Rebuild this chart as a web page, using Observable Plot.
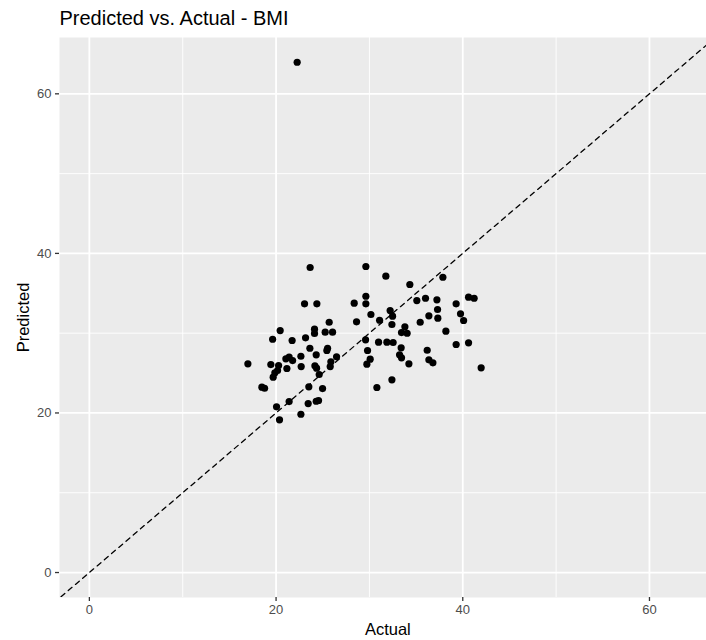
<!DOCTYPE html>
<html>
<head>
<meta charset="utf-8">
<script src="https://cdn.jsdelivr.net/npm/d3@7"></script>
<script src="https://cdn.jsdelivr.net/npm/@observablehq/plot@0.6"></script>
<style>
  html, body { margin: 0; padding: 0; background: #ffffff; }
  #chart { width: 706px; height: 640px; }
</style>
</head>
<body>
<div id="chart"></div>
<script>
// Actual vs predicted BMI values
const actual = [
  22.26,
  23.65, 23.05, 24.37, 28.37, 25.69, 28.62, 20.44, 24.12, 24.12, 25.26,
  26.05, 19.63, 21.72, 23.16, 23.62, 25.52, 25.44, 24.30, 26.48, 21.05,
  21.40, 21.77, 22.66, 25.87, 16.98, 19.44, 20.27, 21.16, 22.69, 24.16,
  24.34, 25.80, 20.16, 19.87, 19.69, 24.62, 18.48, 18.77, 23.51, 24.98,
  21.40, 20.05, 23.44, 24.30, 24.55, 22.66, 20.37,
  29.62, 31.76, 34.33, 37.87, 29.62, 29.62, 35.08, 36.01, 37.23, 39.29,
  40.62, 41.22, 30.16, 32.22, 32.48, 31.09, 32.41, 35.44, 36.37, 37.30,
  37.33, 39.76, 40.09, 33.80, 33.44, 34.04, 38.19, 29.59, 30.98, 31.87,
  32.54, 39.29, 40.62, 29.80, 33.40, 36.19, 30.08, 29.73, 33.23, 33.44,
  34.23, 36.37, 36.80, 41.97, 32.41, 30.80
];
const predicted = [
  63.96,
  38.23, 33.68, 33.68, 33.76, 31.37, 31.42, 30.33, 30.50, 29.96, 30.12,
  30.12, 29.24, 29.08, 29.42, 28.11, 28.11, 27.83, 27.29, 27.04, 26.79,
  26.99, 26.57, 27.11, 26.41, 26.16, 26.07, 25.95, 25.57, 25.82, 25.91,
  25.61, 25.82, 25.32, 25.03, 24.48, 24.82, 23.23, 23.10, 23.28, 23.06,
  21.43, 20.77, 21.18, 21.47, 21.56, 19.84, 19.14,
  38.36, 37.14, 36.10, 37.01, 34.63, 33.68, 34.09, 34.38, 34.18, 33.68,
  34.51, 34.38, 32.34, 32.84, 32.13, 31.62, 31.09, 31.37, 32.18, 32.97,
  31.88, 32.43, 31.59, 30.80, 30.08, 29.99, 30.25, 29.17, 28.87, 28.87,
  28.83, 28.58, 28.79, 27.83, 28.16, 27.86, 26.74, 26.11, 27.29, 26.91,
  26.16, 26.66, 26.28, 25.66, 24.15, 23.19
];
const majorTicks = [0, 20, 40, 60];
const minorTicks = [10, 30, 50];
const identityLine = [-10, 80];
const titleText = "Predicted vs. Actual - BMI";
const xLabel = "Actual";
const yLabel = "Predicted";

const points = actual.map((a, i) => ({actual: a, predicted: predicted[i]}));

const font = "'Liberation Sans', Arial, Helvetica, sans-serif";

const chart = Plot.plot({
  width: 706,
  height: 640,
  marginTop: 37,
  marginBottom: 43,
  marginLeft: 59,
  marginRight: 0,
  style: { fontFamily: font, background: "#ffffff", overflow: "visible" },
  x: { domain: [-3.2, 66.11] },
  y: { domain: [-3.13, 67.06] },
  marks: [
    Plot.frame({ fill: "#EBEBEB", stroke: null }),
    Plot.gridX(minorTicks, { stroke: "#ffffff", strokeOpacity: 1, strokeWidth: 0.9 }),
    Plot.gridY(minorTicks, { stroke: "#ffffff", strokeOpacity: 1, strokeWidth: 0.9 }),
    Plot.gridX(majorTicks, { stroke: "#ffffff", strokeOpacity: 1, strokeWidth: 1.8 }),
    Plot.gridY(majorTicks, { stroke: "#ffffff", strokeOpacity: 1, strokeWidth: 1.8 }),
    Plot.axisX(majorTicks, {
      tickSize: 4, tickPadding: 3, fontSize: 13, fill: "#4D4D4D",
      stroke: "#333333", strokeWidth: 1.3, label: null
    }),
    Plot.axisY(majorTicks, {
      tickSize: 4, tickPadding: 4, fontSize: 13, fill: "#4D4D4D",
      stroke: "#333333", strokeWidth: 1.3, label: null
    }),
    Plot.line(identityLine, {
      x: d => d, y: d => d, stroke: "#000000", strokeWidth: 1.3,
      strokeDasharray: "5,4.5", clip: true
    }),
    Plot.dot(points, { x: "actual", y: "predicted", r: 3.6, fill: "#000000", stroke: null }),
    Plot.text([titleText], {
      text: d => d, frameAnchor: "top-left", textAnchor: "start",
      lineAnchor: "bottom", dy: -13, fontSize: 20, fill: "#000000"
    }),
    Plot.text([xLabel], {
      text: d => d, frameAnchor: "bottom", textAnchor: "middle",
      lineAnchor: "bottom", dx: 4.8, dy: 37, fontSize: 16.5, fill: "#000000"
    }),
    Plot.text([yLabel], {
      text: d => d, frameAnchor: "left", textAnchor: "middle",
      lineAnchor: "bottom", rotate: -90, dx: -30.5, fontSize: 16.5, fill: "#000000"
    })
  ]
});

document.getElementById("chart").appendChild(chart);
</script>
</body>
</html>
